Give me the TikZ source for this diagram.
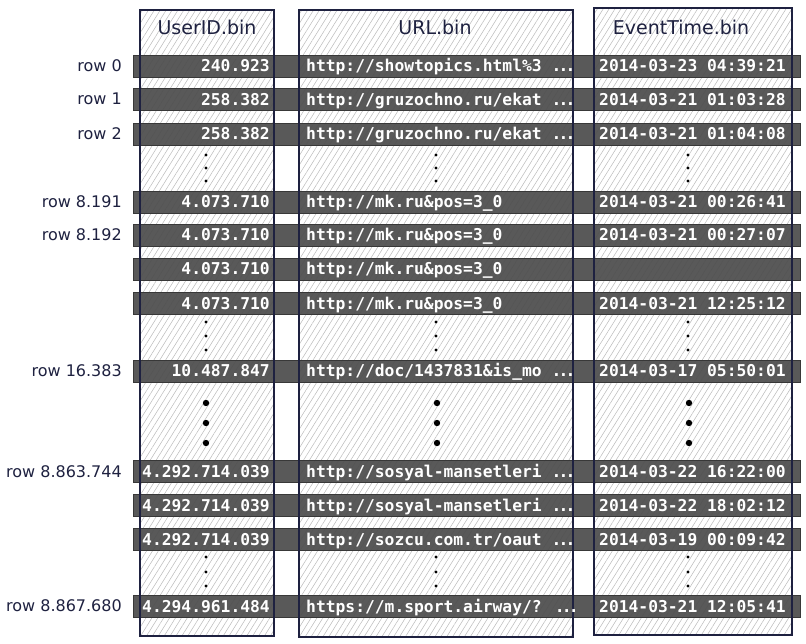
\documentclass[tikz,border=0pt]{standalone}
\usepackage{fontspec}
\setmainfont{DejaVu Sans}
\newfontfamily\monofont{DejaVu Sans Mono}
\usetikzlibrary{patterns.meta}

\definecolor{ink}{HTML}{1E2140}
\definecolor{barfill}{HTML}{505050}
\definecolor{barline}{HTML}{383838}
\definecolor{hatch}{HTML}{BDBDBD}

\pgfdeclarelayer{hatchlayer}
\pgfdeclarelayer{barlayer}
\pgfsetlayers{hatchlayer,barlayer,main}

\tikzset{
  column/.style={pattern={Lines[angle=58,distance=5pt,line width=0.55pt]}, pattern color=hatch},
  colframe/.style={draw=ink, line width=1.1pt},
  header/.style={text=ink, anchor=base, inner sep=0pt, font=\fontsize{19}{22}\selectfont},
  rowlabel/.style={text=ink, anchor=base east, inner sep=0pt, font=\fontsize{16}{18}\selectfont},
  bar/.style={fill=barfill, fill opacity=0.95, draw=barline, line width=0.8pt,
              minimum width=667pt, minimum height=22pt, inner sep=0pt, anchor=west},
  val/.style={text=white, inner sep=0pt, font=\monofont\bfseries\fontsize{16.3}{18}\selectfont},
  uid/.style={val, anchor=base east},
  url/.style={val, anchor=base west},
  evt/.style={val, anchor=base west},
  sdot/.style={fill=black, draw=none},
}

% one stored record: name, centre y, row label, UserID, URL, EventTime
\newcommand\datarow[6]{%
  \begin{pgfonlayer}{barlayer}
    \node[bar] (#1) at (133,#2) {};
  \end{pgfonlayer}
  \node[rowlabel] (#1-label) at (122,#2+5.5) {#3};
  \node[uid] (#1-uid) at (270,#2+6) {#4};
  \node[url] (#1-url) at (306,#2+6) {#5};
  \node[evt] (#1-evt) at (599,#2+6) {#6};
}
% three small dots in every column
\newcommand\gapdots[3]{%
  \foreach \cx in {206,436,688}{
    \fill[sdot] (\cx,#1) circle (1.6);
    \fill[sdot] (\cx,#2) circle (1.6);
    \fill[sdot] (\cx,#3) circle (1.6);
  }
}
% compact three-dot ellipsis for truncated URLs
\newcommand\trunc{{.\kern-2.8pt.\kern-2.8pt.}}

\begin{document}
\begin{tikzpicture}[x=1pt,y=-1pt]
\useasboundingbox (0,0) rectangle (806,644);

% hatched column bodies
\begin{pgfonlayer}{hatchlayer}
  \path[column] (140,10) rectangle (274,636);
  \path[column] (299,10) rectangle (573,637);
  \path[column] (594,8) rectangle (792,635);
\end{pgfonlayer}

% column outlines
\draw[colframe] (140,10) rectangle (274,636);
\draw[colframe] (299,10) rectangle (573,637);
\draw[colframe] (594,8) rectangle (792,635);

% column headers
\node[header] (h-uid) at (207,35) {UserID.bin};
\node[header] (h-url) at (435,35) {URL.bin};
\node[header] (h-evt) at (681,35) {EventTime.bin};

% records
\datarow{r0}{66}{row 0}{240.923}{http://showtopics.html\%3 \trunc}{2014-03-23 04:39:21}
\datarow{r1}{99.5}{row 1}{258.382}{http://gruzochno.ru/ekat \trunc}{2014-03-21 01:03:28}
\datarow{r2}{134}{row 2}{258.382}{http://gruzochno.ru/ekat \trunc}{2014-03-21 01:04:08}
\gapdots{155}{168}{181}
\datarow{r8191}{202}{row 8.191}{4.073.710}{http://mk.ru\&pos=3\_0}{2014-03-21 00:26:41}
\datarow{r8192}{235}{row 8.192}{4.073.710}{http://mk.ru\&pos=3\_0}{2014-03-21 00:27:07}
\datarow{r8193}{269}{}{4.073.710}{http://mk.ru\&pos=3\_0}{}
\datarow{r8194}{303.5}{}{4.073.710}{http://mk.ru\&pos=3\_0}{2014-03-21 12:25:12}
\gapdots{322}{336}{350}
\datarow{r16383}{371}{row 16.383}{10.487.847}{http://doc/1437831\&is\_mo \trunc}{2014-03-17 05:50:01}
% large dots between the granule blocks
\foreach \cx in {206,437,689}{
  \fill[sdot] (\cx,403) circle (3.2);
  \fill[sdot] (\cx,423) circle (3.2);
  \fill[sdot] (\cx,443) circle (3.2);
}
\datarow{r8863744}{471.5}{row 8.863.744}{4.292.714.039}{http://sosyal-mansetleri \trunc}{2014-03-22 16:22:00}
\datarow{r8863745}{505.5}{}{4.292.714.039}{http://sosyal-mansetleri \trunc}{2014-03-22 18:02:12}
\datarow{r8863746}{539.5}{}{4.292.714.039}{http://sozcu.com.tr/oaut \trunc}{2014-03-19 00:09:42}
\gapdots{557}{572}{586}
\datarow{r8867680}{606}{row 8.867.680}{4.294.961.484}{https://m.sport.airway/? \trunc}{2014-03-21 12:05:41}
\end{tikzpicture}
\end{document}
